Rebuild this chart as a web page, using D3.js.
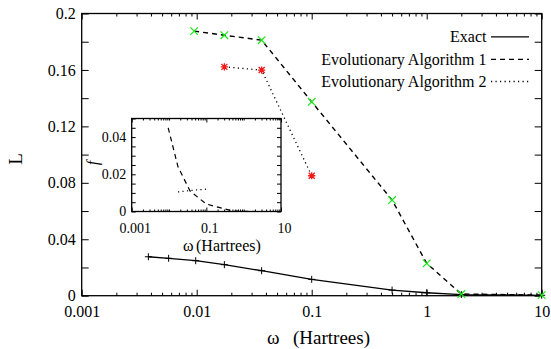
<!DOCTYPE html>
<html>
<head>
<meta charset="utf-8">
<script src="https://cdn.jsdelivr.net/npm/d3@7"></script>
<style>
  body { margin: 0; background: #fff; }
</style>
</head>
<body>
<svg id="chart" width="551" height="349"></svg>
<script>
// values
const omegaExact = [0.0038, 0.0057, 0.0098, 0.0174, 0.0367, 0.1, 0.5, 1, 2, 10]
const lExact = [0.0276, 0.0265, 0.0248, 0.022, 0.0177, 0.0116, 0.004, 0.0021, 0.0008, 0.0003]
const omegaEA1 = [0.0095, 0.0174, 0.0367, 0.1, 0.5, 1, 2, 10]
const lEA1 = [0.1875, 0.1846, 0.1811, 0.1374, 0.0678, 0.0229, 0.0012, 0.0004]
const omegaEA2 = [0.0174, 0.0367, 0.1]
const lEA2 = [0.1622, 0.1599, 0.085]
// inset: f against omega
const fEA1 = [0.045, 0.024, 0.011, 0.004, 0.0003, 0.0001, 0, 0]
const fEA2 = [0.0105, 0.0113, 0.012]

const xTicks = [0.001, 0.01, 0.1, 1, 10]
const xTickLabels = ['0.001', '0.01', '0.1', '1', '10']
const yTicks = [0, 0.04, 0.08, 0.12, 0.16, 0.2]
const yTickLabels = ['0', '0.04', '0.08', '0.12', '0.16', '0.2']
const yMinor = [0.02, 0.06, 0.1, 0.14, 0.18]
const insetXTicks = [0.001, 0.1, 10]
const insetXTickLabels = ['0.001', '0.1', '10']
const insetYTicks = [0, 0.02, 0.04]
const insetYTickLabels = ['0', '0.02', '0.04']
const insetYMinor = [0.005, 0.01, 0.015, 0.025, 0.03, 0.035, 0.045, 0.05]
const legendLabels = ['Exact', 'Evolutionary Algorithm 1', 'Evolutionary Algorithm 2']

const serif = "'Liberation Serif', 'Times New Roman', serif"
const svg = d3.select('#chart')
const green = '#18ea18'
const red = '#f01818'

const zip = (xs, ys) => xs.map((d, i) => [d, ys[i]])

// draws a boxed frame with ticks on all four sides
const frame = (g, x, y, o) => {
  const [x0, x1] = x.range()
  const [y0, y1] = y.range()
  const minorX = x.ticks().filter((d) => !o.xMajor.includes(d))
  const lab = (vals, labels) => (d) => labels[vals.indexOf(d)]

  g.append('g').attr('class', 'xlab').attr('transform', `translate(0,${y0})`)
    .call(d3.axisBottom(x).tickValues(o.xMajor).tickSize(-o.major).tickSizeOuter(0)
      .tickPadding(o.xPad).tickFormat(lab(o.xMajor, o.xLabels)))
  g.append('g').attr('transform', `translate(0,${y0})`)
    .call(d3.axisBottom(x).tickValues(minorX).tickSize(-o.minor).tickSizeOuter(0).tickFormat(''))
  g.append('g').attr('transform', `translate(0,${y1})`)
    .call(d3.axisTop(x).tickValues(o.xMajor).tickSize(-o.major).tickSizeOuter(0).tickFormat(''))
  g.append('g').attr('transform', `translate(0,${y1})`)
    .call(d3.axisTop(x).tickValues(minorX).tickSize(-o.minor).tickSizeOuter(0).tickFormat(''))

  g.append('g').attr('transform', `translate(${x0},0)`)
    .call(d3.axisLeft(y).tickValues(o.yMajor).tickSize(-o.ySize).tickSizeOuter(0)
      .tickPadding(o.yPad).tickFormat(lab(o.yMajor, o.yLabels)))
  g.append('g').attr('transform', `translate(${x0},0)`)
    .call(d3.axisLeft(y).tickValues(o.yMinor).tickSize(-o.ySize).tickSizeOuter(0).tickFormat(''))
  g.append('g').attr('transform', `translate(${x1},0)`)
    .call(d3.axisRight(y).tickValues(o.yMajor.concat(o.yMinor)).tickSize(-o.ySize).tickSizeOuter(0).tickFormat(''))

  g.selectAll('.domain').remove()
  g.selectAll('.tick line').attr('stroke', '#000').attr('stroke-width', 1)
  g.selectAll('.tick text').attr('fill', '#000').style('font-size', o.font + 'px')

  g.append('rect')
    .attr('x', x0).attr('y', y1)
    .attr('width', x1 - x0).attr('height', y0 - y1)
    .attr('fill', 'none').attr('stroke', '#000').attr('stroke-width', o.stroke)
}

// main plot
const x = d3.scaleLog().domain([0.001, 10]).range([81.7, 541.7])
const y = d3.scaleLinear().domain([0, 0.2]).range([295.7, 13.5])

const main = svg.append('g')
frame(main, x, y, {
  xMajor: xTicks, xLabels: xTickLabels, yMajor: yTicks, yLabels: yTickLabels,
  yMinor: yMinor, major: 6, minor: 3, ySize: 7, xPad: 10, yPad: 6, font: 16, stroke: 1.3
})

const line = d3.line().x((d) => x(d[0])).y((d) => y(d[1]))

main.append('path').datum(zip(omegaExact, lExact))
  .attr('d', line).attr('fill', 'none').attr('stroke', '#000').attr('stroke-width', 1.3)
main.append('path').datum(zip(omegaEA1, lEA1))
  .attr('d', line).attr('fill', 'none').attr('stroke', '#000').attr('stroke-width', 1.4)
  .attr('stroke-dasharray', '5,4')
main.append('path').datum(zip(omegaEA2, lEA2))
  .attr('d', line).attr('fill', 'none').attr('stroke', '#000').attr('stroke-width', 1.3)
  .attr('stroke-dasharray', '1.2,3.3')

// point symbols
const plus = (s) => `M${-s},0H${s}M0,${-s}V${s}`
const cross = (s) => `M${-s},${-s}L${s},${s}M${-s},${s}L${s},${-s}`

main.selectAll('.pExact').data(zip(omegaExact, lExact)).enter().append('path')
  .attr('transform', (d) => `translate(${x(d[0])},${y(d[1])})`)
  .attr('d', plus(3.5)).attr('stroke', '#000').attr('stroke-width', 1)
main.selectAll('.pEA1').data(zip(omegaEA1, lEA1)).enter().append('path')
  .attr('transform', (d) => `translate(${x(d[0])},${y(d[1])})`)
  .attr('d', cross(3.8)).attr('stroke', green).attr('stroke-width', 1.2)
main.selectAll('.pEA2').data(zip(omegaEA2, lEA2)).enter().append('path')
  .attr('transform', (d) => `translate(${x(d[0])},${y(d[1])})`)
  .attr('d', plus(3.6) + cross(3)).attr('stroke', red).attr('stroke-width', 1.3)

// legend
const legendY = [36.8, 59.3, 81.5]
const legendDash = [null, '5,4', '1.2,3.3']
const leg = svg.append('g')
leg.selectAll('text').data(legendLabels).enter().append('text')
  .attr('x', 486.5).attr('y', (d, i) => legendY[i] + 5.3)
  .attr('text-anchor', 'end').style('font-size', '16px').text((d) => d)
leg.selectAll('line').data(legendLabels).enter().append('line')
  .attr('x1', 491).attr('x2', 529)
  .attr('y1', (d, i) => legendY[i]).attr('y2', (d, i) => legendY[i])
  .attr('stroke', '#000').attr('stroke-width', 1.3)
  .attr('stroke-dasharray', (d, i) => legendDash[i])

// axis titles
svg.append('text')
  .attr('transform', 'translate(22,159) rotate(-90)')
  .attr('text-anchor', 'middle').style('font-size', '19px').text('L')
const xt = svg.append('text').attr('y', 344).style('font-size', '19px')
xt.append('tspan').attr('x', 267).text('ω')
xt.append('tspan').attr('x', 293).text('(Hartrees)')

// inset
const xi = d3.scaleLog().domain([0.001, 10]).range([131.7, 281])
const yi = d3.scaleLinear().domain([0, 0.05]).range([211.5, 118.5])
const inset = svg.append('g')
frame(inset, xi, yi, {
  xMajor: insetXTicks, xLabels: insetXTickLabels, yMajor: insetYTicks, yLabels: insetYTickLabels,
  yMinor: insetYMinor, major: 4, minor: 2, ySize: 4,
  xPad: 11.5, yPad: 5.5, font: 14, stroke: 1.3
})
inset.selectAll('.xlab .tick text').attr('dx', 3)

const linei = d3.line().x((d) => xi(d[0])).y((d) => yi(d[1]))
inset.append('path').datum(zip(omegaEA1, fEA1))
  .attr('d', linei).attr('fill', 'none').attr('stroke', '#000').attr('stroke-width', 1.2)
  .attr('stroke-dasharray', '5,4')
inset.append('path').datum(zip(omegaEA2, fEA2))
  .attr('d', linei).attr('fill', 'none').attr('stroke', '#000').attr('stroke-width', 1.2)
  .attr('stroke-dasharray', '1.2,3.3')

svg.append('text')
  .attr('transform', 'translate(98,163) rotate(-90)')
  .attr('text-anchor', 'middle').style('font-size', '16px').style('font-style', 'italic').text('f')
const xit = svg.append('text').attr('y', 251).style('font-size', '16px')
xit.append('tspan').attr('x', 183).text('ω')
xit.append('tspan').attr('x', 196).text('(Hartrees)')

// one serif family for every text
svg.selectAll('text').style('font-family', serif).attr('fill', '#000')
</script>
</body>
</html>
